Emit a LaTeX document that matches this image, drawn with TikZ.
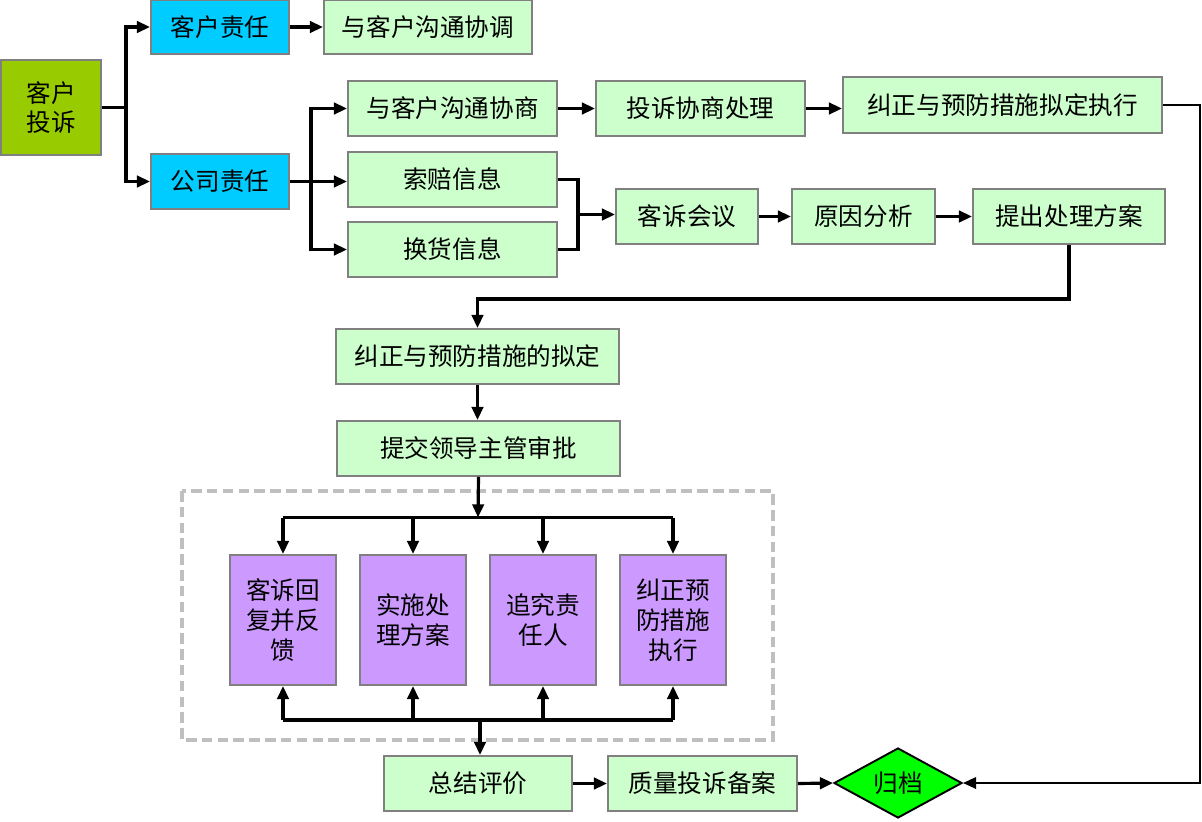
\documentclass[tikz,border=0pt]{standalone}
\usepackage{fontspec}
\setmainfont{Noto Sans CJK SC}
\usetikzlibrary{arrows.meta,shapes.geometric}

\definecolor{boxgreen}{HTML}{CCFFCC}
\definecolor{boxblue}{HTML}{00CCFF}
\definecolor{boxolive}{HTML}{99CC00}
\definecolor{boxpurple}{HTML}{CC99FF}
\definecolor{boxgray}{HTML}{808080}
\definecolor{dashgray}{HTML}{BFBFBF}

\tikzset{
    box/.style={draw=boxgray,line width=1.1pt,fill=boxgreen,inner sep=0pt,
        minimum height=1.1cm,font=\fontsize{14}{17}\selectfont,align=center},
    bluebox/.style={box,fill=boxblue,minimum width=2.76cm},
    purplebox/.style={box,fill=boxpurple,minimum width=2.12cm,minimum height=2.6cm},
    link/.style={line width=1.8pt},
    >={Triangle[length=7.5pt,width=6.5pt]}
}

\begin{document}
\begin{tikzpicture}[x=0.02cm,y=-0.02cm]
            \useasboundingbox (0,0) rectangle (1202,821);

            \node[box,fill=boxolive,minimum width=2cm,minimum height=1.9cm] (ts) at (51,107.5) {客户\\投诉};
            \node[bluebox,minimum height=1.08cm] (kz) at (220,27) {客户责任};
            \node[bluebox] (gz) at (220,181.5) {公司责任};
            \node[box,minimum width=4.16cm,minimum height=1.08cm] (xt) at (428,27) {与客户沟通协调};

            \node[box,minimum width=4.18cm] (xs) at (452.5,108.5) {与客户沟通协商};
            \node[box,minimum width=4.18cm] (cl) at (700.5,108.5) {投诉协商处理};
            \node[box,minimum width=6.38cm,minimum height=1.12cm] (zx) at (1002.5,105) {纠正与预防措施拟定执行};
            \node[box,minimum width=4.18cm] (sp) at (452.5,179.5) {索赔信息};
            \node[box,minimum width=4.18cm] (hh) at (452.5,249.5) {换货信息};
            \node[box,minimum width=2.84cm] (hy) at (687,216.5) {客诉会议};
            \node[box,minimum width=2.86cm] (fx) at (863.5,216.5) {原因分析};
            \node[box,minimum width=3.84cm] (fa) at (1069,216.5) {提出处理方案};

            \node[box,minimum width=5.66cm] (nd) at (477.5,356.5) {纠正与预防措施的拟定};
            \node[box,minimum width=5.66cm] (sq) at (478.5,448.5) {提交领导主管审批};

            \draw[dashgray,line width=2.2pt,dash pattern=on 6pt off 3pt] (182,491) rectangle (773,740);
            \node[purplebox] (p1) at (283,620) {客诉回\\复并反\\馈};
            \node[purplebox] (p2) at (413,620) {实施处\\理方案};
            \node[purplebox] (p3) at (543,620) {追究责\\任人};
            \node[purplebox] (p4) at (673,620) {纠正预\\防措施\\执行};

            \node[box,minimum width=3.76cm] (zj) at (478,783.5) {总结评价};
            \node[box,minimum width=3.78cm] (ba) at (702.5,783.5) {质量投诉备案};
            \node[diamond,draw=black,line width=1.1pt,fill=green,inner sep=0pt,aspect=1.83,
                minimum width=2.56cm,minimum height=1.4cm,font=\fontsize{14}{17}\selectfont] (gd) at (898,783) {归档};

            \coordinate (ts1) at (126,107.5);
            \coordinate (gz1) at (311,181.5);
            \coordinate (sh1) at (578,214.5);
            \coordinate (top) at (478,517.5);
            \coordinate (bot) at (480,720);

            \draw[link] (ts.east) -- (ts1);
            \draw[link,->] (ts1) |- (kz.west);
            \draw[link,->] (ts1) |- (gz.west);
            \draw[link,->] (kz.east) -- (xt.west);

            \draw[link,->] (gz.east) -- (gz.east -| sp.west);
            \draw[link,->] (gz1) |- (xs.west);
            \draw[link,->] (gz1) |- (hh.west);
            \draw[link,->] (xs.east) -- (cl.west);
            \draw[link,->] (cl.east) -- (cl.east -| zx.west);

            \draw[link] (sp.east) -| (sh1) |- (hh.east);
            \draw[link,->] (sh1) -- (sh1 -| hy.west);
            \draw[link,->] (hy.east) -- (fx.west);
            \draw[link,->] (fx.east) -- (fa.west);

            \draw[link,->] (fa.south) -- ++(0,54) -| (nd.north);
            \draw[link,->] (nd.south) -- (nd.south |- sq.north);
            \draw[link,->] (sq.south) -- (top);

            \draw[link] (p1.north |- top) -- (p4.north |- top);
            \draw[link] (p1.south |- bot) -- (p4.south |- bot);
            \foreach \p in {p1,p2,p3,p4} {
                \draw[link,->] (\p.north |- top) -- (\p.north);
                \draw[link,->] (\p.south |- bot) -- (\p.south);
            }
            \draw[link,->] (bot) -- (bot |- zj.north);

            \draw[link,->] (zj.east) -- (ba.west);
            \draw[link,->] (ba.east) -- (gd.west);
            \draw[line width=1.3pt,->] (zx.east) -- ++(37,0) |- (gd.east);
        \end{tikzpicture}
\end{document}
